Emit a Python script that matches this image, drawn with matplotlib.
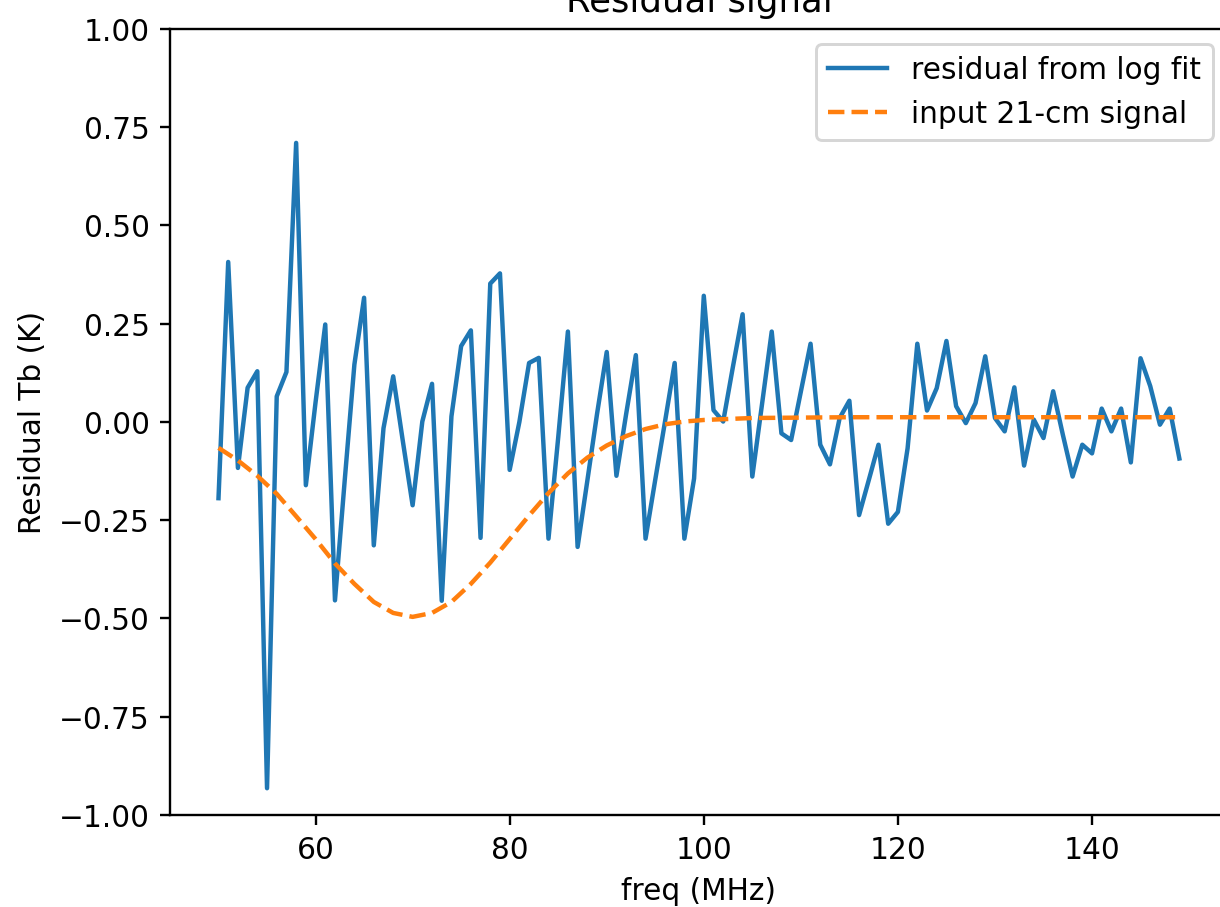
import matplotlib
matplotlib.use("Agg")
import matplotlib.pyplot as plt

# frequences (MHz), pas de 1 MHz
freq = list(range(50, 150))

# residu apres ajustement log (K)
residual = [
    -0.194, 0.407, -0.117, 0.087, 0.129, -0.932, 0.065, 0.127, 0.710, -0.161,   # 50-59
    0.050, 0.248, -0.454, -0.150, 0.146, 0.316, -0.314, -0.016, 0.116, -0.050,  # 60-69
    -0.212, 0.001, 0.097, -0.455, 0.014, 0.193, 0.233, -0.295, 0.352, 0.378,    # 70-79
    -0.122, 0.000, 0.150, 0.163, -0.297, -0.040, 0.230, -0.318, -0.150, 0.020,  # 80-89
    0.178, -0.137, 0.020, 0.170, -0.297, -0.147, 0.000, 0.150, -0.297, -0.144,  # 90-99
    0.321, 0.030, 0.001, 0.140, 0.274, -0.139, 0.045, 0.230, -0.029, -0.046,    # 100-109
    0.077, 0.199, -0.058, -0.108, 0.010, 0.054, -0.237, -0.148, -0.058, -0.259, # 110-119
    -0.229, -0.067, 0.199, 0.029, 0.086, 0.206, 0.040, -0.003, 0.048, 0.167,    # 120-129
    0.010, -0.024, 0.088, -0.111, 0.006, -0.041, 0.078, -0.033, -0.139, -0.058, # 130-139
    -0.080, 0.034, -0.024, 0.034, -0.103, 0.162, 0.091, -0.007, 0.034, -0.093,  # 140-149
]

# signal 21-cm injecte (K)
signal_freq = [50, 52, 54, 56, 58, 60, 62, 64, 66, 68, 70, 72, 74, 76, 78, 80,
               82, 84, 86, 88, 90, 92, 94, 96, 98, 100, 105, 110, 115, 120,
               125, 130, 135, 140, 145, 149]
signal = [-0.066, -0.098, -0.137, -0.183, -0.240, -0.298, -0.360, -0.412,
          -0.458, -0.486, -0.496, -0.486, -0.458, -0.412, -0.358, -0.298,
          -0.238, -0.181, -0.131, -0.091, -0.060, -0.036, -0.018, -0.006,
          0.001, 0.005, 0.010, 0.011, 0.012, 0.012, 0.012, 0.012, 0.012,
          0.012, 0.012, 0.012]

# figure d'origine 6.4x4.8 pouces agrandie ~2.13x puis recadree
# (le bord droit des axes et le haut du titre sortent de l'image, comme sur l'original)
dpi = 213
fig = plt.figure(figsize=(1220.4 / dpi, 907.4 / dpi), dpi=dpi)
ax = fig.add_axes([170.4 / 1220, 92 / 907, 1056.6 / 1220, 785.7 / 907])

ax.plot(freq, residual, label="residual from log fit")
ax.plot(signal_freq, signal, "--", label="input 21-cm signal")
ax.set_ylim(-1, 1)
ax.set_xlabel("freq (MHz)")
ax.set_ylabel("Residual Tb (K)")
ax.set_title("Residual signal")
ax.legend(loc="upper right")
# le cadre droit est hors de l'image recadree
ax.spines["right"].set_visible(False)

fig.savefig("out.png", dpi=dpi)
